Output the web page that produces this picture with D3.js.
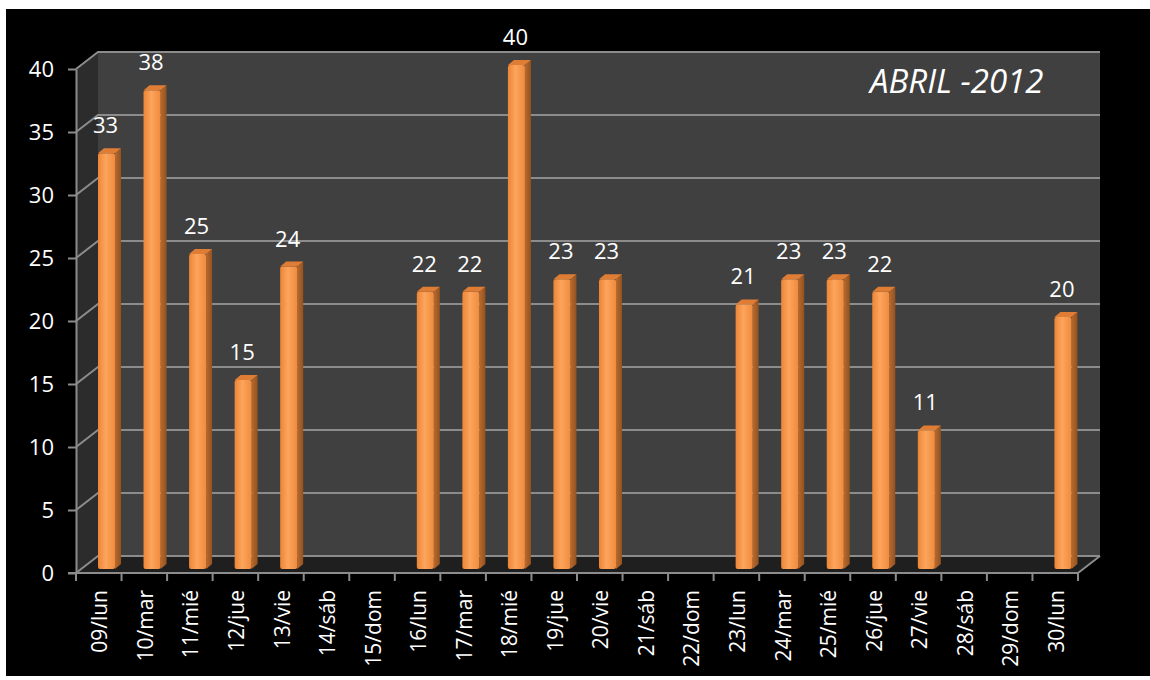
<!DOCTYPE html>
<meta charset="utf-8">
<style>
body { margin: 0; background: #fff; }
text { font-family: "Open Sans", sans-serif; fill: #fff; }
.axis path, .axis line { stroke: #8c8c8c; stroke-width: 2; fill: none; }
.axis text { font-size: 22px; fill: #fff; }
</style>
<body>
<div id="chart"></div>
<script src="https://d3js.org/d3.v7.min.js"></script>
<script>
var days = ["09/lun","10/mar","11/mié","12/jue","13/vie","14/sáb","15/dom","16/lun","17/mar","18/mié","19/jue",
            "20/vie","21/sáb","22/dom","23/lun","24/mar","25/mié","26/jue","27/vie","28/sáb","29/dom","30/lun"];
var counts = [33, 38, 25, 15, 24, null, null, 22, 22, 40, 23, 23, null, null, 21, 23, 23, 22, 11, null, null, 20];
var yTicks = [0, 5, 10, 15, 20, 25, 30, 35, 40];
var title = "ABRIL -2012";

var W = 1150, H = 680;
var dx = 22, dy = -17;   // depth of the 3d box
var svg = d3.select("#chart").append("svg").attr("width", W).attr("height", H);

var defs = svg.append("defs");
var gFront = defs.append("linearGradient").attr("id", "front").attr("x1", 0).attr("x2", 1).attr("y1", 0).attr("y2", 0);
gFront.append("stop").attr("offset", "0%").attr("stop-color", "#ec8536");
gFront.append("stop").attr("offset", "45%").attr("stop-color", "#fca55c");
gFront.append("stop").attr("offset", "100%").attr("stop-color", "#f08b3e");
var gSide = defs.append("linearGradient").attr("id", "side").attr("x1", 0).attr("x2", 1).attr("y1", 0).attr("y2", 0);
gSide.append("stop").attr("offset", "0%").attr("stop-color", "#b86a2e");
gSide.append("stop").attr("offset", "100%").attr("stop-color", "#94521f");

// black card
svg.append("rect").attr("x", 6).attr("y", 9).attr("width", W - 6).attr("height", 667).attr("fill", "#000");

var x = d3.scaleBand().domain(days).range([76, 1078]).padding(0);
var y = d3.scaleLinear().domain([0, 40]).range([573, 69]);

var x0 = 76, x1 = 1078, y0 = y(0), yTop = y(40);

// walls
svg.append("rect").attr("x", x0 + dx).attr("y", yTop + dy).attr("width", x1 - x0).attr("height", y0 - yTop)
  .attr("fill", "#404040");
svg.append("polygon").attr("fill", "#2c2c2c")
  .attr("points", [[x0, yTop], [x0 + dx, yTop + dy], [x0 + dx, y0 + dy], [x0, y0]].join(" "));
svg.append("polygon").attr("fill", "#1f1f1f")
  .attr("points", [[x0, y0], [x1, y0], [x1 + dx, y0 + dy], [x0 + dx, y0 + dy]].join(" "));

// gridlines on back wall and side wall
svg.selectAll(".grid").data(yTicks).enter().append("polyline")
  .attr("fill", "none").attr("stroke", "#8c8c8c").attr("stroke-width", 2)
  .attr("points", function(d) { return [[x0, y(d)], [x0 + dx, y(d) + dy], [x1 + dx, y(d) + dy]].join(" "); });
svg.append("line").attr("x1", x1).attr("y1", y0).attr("x2", x1 + dx).attr("y2", y0 + dy)
  .attr("stroke", "#8c8c8c").attr("stroke-width", 2);

// bars
var bw = 17, bdx = 6, bdy = -5, bBase = 569, off = 22;
var yb = function(v) { return bBase - (y(0) - y(v)); };
var bars = svg.selectAll(".bar").data(days.map(function(d, i) { return {day: d, v: counts[i]}; })
  .filter(function(d) { return d.v != null; })).enter().append("g");

bars.append("polygon").attr("fill", "url(#side)")
  .attr("points", function(d) {
    var l = x(d.day) + off + bw;
    return [[l, yb(d.v)], [l + bdx, yb(d.v) + bdy], [l + bdx, bBase + bdy], [l, bBase]].join(" ");
  });
bars.append("rect").attr("fill", "url(#front)")
  .attr("x", function(d) { return x(d.day) + off; })
  .attr("y", function(d) { return yb(d.v); })
  .attr("width", bw)
  .attr("height", function(d) { return bBase - yb(d.v); })
  .attr("rx", 2);
bars.append("polygon").attr("fill", "#e07d35")
  .attr("points", function(d) {
    var l = x(d.day) + off, t = yb(d.v);
    return [[l, t], [l + bw, t], [l + bw + bdx, t + bdy], [l + bdx, t + bdy]].join(" ");
  });
bars.append("text")
  .attr("x", function(d) { return x(d.day) + off + bw / 2 - 1; })
  .attr("y", function(d) { return yb(d.v) - 20; })
  .attr("text-anchor", "middle").style("font-size", "22px")
  .text(function(d) { return d.v; });

// front axes
var yAxis = svg.append("g").attr("class", "axis").attr("transform", "translate(" + x0 + ",0)")
  .call(d3.axisLeft(y).tickValues(yTicks).tickSize(8).tickPadding(14).tickSizeOuter(0));
yAxis.selectAll("text").attr("dy", "0.36em");

var xAxis = svg.append("g").attr("class", "axis");
xAxis.append("line").attr("x1", x0 - 8).attr("x2", x1).attr("y1", y0).attr("y2", y0);
xAxis.selectAll(".tk").data(days.concat(["end"])).enter().append("line")
  .attr("x1", function(d, i) { return x0 + i * x.bandwidth(); })
  .attr("x2", function(d, i) { return x0 + i * x.bandwidth(); })
  .attr("y1", y0).attr("y2", y0 + 8);
xAxis.selectAll(".lbl").data(days).enter().append("text")
  .attr("text-anchor", "end")
  .attr("dy", "0.36em")
  .attr("transform", function(d) { return "translate(" + (x(d) + x.bandwidth() / 2 + 1) + "," + 590 + ") rotate(-90)"; })
  .style("font-size", "21px")
  .text(function(d) { return d; });

svg.append("text").attr("x", 870).attr("y", 93)
  .style("font-size", "33px").style("font-style", "italic")
  .text(title);
</script>
</body>
